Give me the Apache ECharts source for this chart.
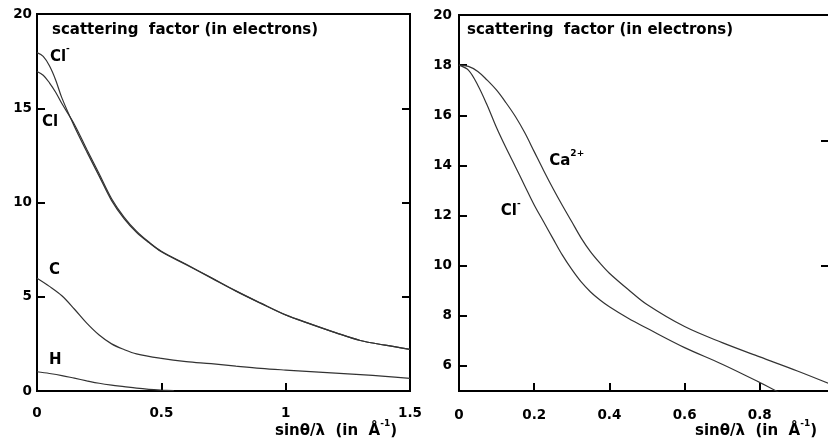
<!DOCTYPE html>
<html><head><meta charset="utf-8">
<script src="https://cdn.jsdelivr.net/npm/echarts@6/dist/echarts.min.js"></script>
<style>html,body{margin:0;padding:0;background:#fff}#c{width:828px;height:441px}</style>
</head><body><div id="c"></div>
<script>
// ---- data ----
const leftClMinus = [[0,17.95],[0.025,17.75],[0.05,17.25],[0.075,16.5],[0.1,15.55],[0.15,14.05],[0.2,12.7],[0.25,11.4],[0.3,10.1],[0.35,9.15],[0.4,8.42],[0.45,7.87],[0.5,7.39],[0.6,6.7],[0.7,6.0],[0.8,5.3],[0.9,4.65],[1.0,4.03],[1.1,3.55],[1.2,3.1],[1.3,2.68],[1.4,2.43],[1.5,2.21]];
const leftCl = [[0,16.95],[0.025,16.75],[0.05,16.35],[0.075,15.85],[0.1,15.25],[0.15,14.15],[0.2,12.82],[0.25,11.52],[0.3,10.2],[0.35,9.23],[0.4,8.48],[0.45,7.9],[0.5,7.41],[0.6,6.72],[0.7,6.02],[0.8,5.31],[0.9,4.66],[1.0,4.04],[1.1,3.56],[1.2,3.1],[1.3,2.68],[1.4,2.43],[1.5,2.21]];
const leftC = [[0,5.98],[0.05,5.55],[0.1,5.05],[0.15,4.35],[0.2,3.6],[0.25,2.97],[0.3,2.5],[0.35,2.2],[0.4,1.97],[0.5,1.73],[0.6,1.56],[0.7,1.45],[0.8,1.32],[0.9,1.2],[1.0,1.11],[1.1,1.03],[1.2,0.95],[1.3,0.87],[1.4,0.78],[1.5,0.67]];
const leftH = [[0,1.02],[0.05,0.93],[0.1,0.82],[0.15,0.68],[0.2,0.54],[0.25,0.41],[0.3,0.31],[0.35,0.23],[0.4,0.15],[0.45,0.09],[0.5,0.05],[0.55,0.02]];
const rightClMinus = [[0,18.0],[0.025,17.8],[0.05,17.2],[0.075,16.4],[0.1,15.5],[0.125,14.7],[0.15,13.95],[0.175,13.18],[0.2,12.42],[0.225,11.75],[0.25,11.08],[0.275,10.42],[0.3,9.85],[0.325,9.35],[0.35,8.95],[0.375,8.63],[0.4,8.36],[0.45,7.9],[0.5,7.5],[0.6,6.73],[0.7,6.07],[0.8,5.34],[0.85,4.95]];
const rightCa = [[0,18.0],[0.025,17.95],[0.05,17.75],[0.075,17.4],[0.1,17.0],[0.125,16.5],[0.15,15.95],[0.175,15.3],[0.2,14.55],[0.225,13.8],[0.25,13.08],[0.275,12.4],[0.3,11.75],[0.325,11.1],[0.35,10.55],[0.375,10.1],[0.4,9.7],[0.45,9.05],[0.5,8.45],[0.6,7.57],[0.7,6.93],[0.8,6.36],[0.9,5.8],[1.0,5.2]];
const rightYLabels = [6,8,10,12,14,16,18,20];
const rightYRightTicks = [10,15];
const rightXLabels = [0,0.2,0.4,0.6,0.8];
const titleText = 'scattering  factor (in electrons)';
const xNameText = '{a|sin\u03b8/\u03bb  (in  \u00c5}{s|-1}{a|)}';

// ---- styling ----
const FF = '"DejaVu Sans", sans-serif';
const lab = {fontFamily: FF, fontWeight: 'bold', fontSize: 13.5, color: '#000'};
const tickStyle = {inside: true, length: 8, lineStyle: {color: '#000', width: 2}};
const lineStyle = {color: '#333', width: 1.2};
const supStyle = {fontFamily: FF, fontWeight: 'bold', fontSize: 9, verticalAlign: 'top', color: '#000'};
const baseTok = {fontFamily: FF, fontWeight: 'bold', fontSize: 15, color: '#000', padding: [5, 0, 0, 0]};

function curveLabel(text, coord) {
  return {
    symbol: 'rect', symbolSize: 0, silent: true,
    label: {show: true, position: 'right', distance: 0, formatter: text,
            fontFamily: FF, fontWeight: 'bold', fontSize: 15, color: '#000',
            rich: {b: baseTok, s: supStyle}},
    data: [{coord: coord}]
  };
}
function line(data, xi, yi, mp) {
  return {type: 'line', data: data, xAxisIndex: xi, yAxisIndex: yi, showSymbol: false,
          smooth: 0.35, lineStyle: lineStyle, markPoint: mp, z: 3};
}
function textEl(x, y, text, align) {
  return {type: 'text', x: x, y: y, style: {text: text, fontFamily: FF, fontWeight: 'bold', fontSize: 15,
          fill: '#000', align: align, verticalAlign: 'middle',
          rich: {a: {fontFamily: FF, fontWeight: 'bold', fontSize: 15, fill: '#000', padding: [5, 0, 0, 0]},
                 s: {fontFamily: FF, fontWeight: 'bold', fontSize: 9, verticalAlign: 'top', fill: '#000'}}}};
}

const chart = echarts.init(document.getElementById('c'), null, {renderer: 'canvas'});
chart.setOption({
  animation: false,
  backgroundColor: '#fff',
  grid: [
    {left: 37, top: 14, width: 373, height: 377, show: true, borderColor: '#000', borderWidth: 2,
     backgroundColor: 'transparent', outerBoundsMode: 'none', containLabel: false},
    {left: 459, top: 15, width: 376, height: 376, show: true, borderColor: '#000', borderWidth: 2,
     backgroundColor: 'transparent', outerBoundsMode: 'none', containLabel: false}
  ],
  xAxis: [
    {gridIndex: 0, type: 'value', min: 0, max: 1.5, interval: 0.5, axisLine: {show: false},
     axisTick: tickStyle, splitLine: {show: false}, axisLabel: Object.assign({margin: 15}, lab)},
    {gridIndex: 1, type: 'value', min: 0, max: 1, interval: 0.2, axisLine: {show: false},
     axisTick: tickStyle, splitLine: {show: false},
     axisLabel: Object.assign({margin: 17, customValues: rightXLabels}, lab)}
  ],
  yAxis: [
    {gridIndex: 0, type: 'value', min: 0, max: 20, interval: 5, position: 'left', axisLine: {show: false},
     axisTick: tickStyle, splitLine: {show: false}, axisLabel: Object.assign({margin: 5, padding: [6, 0, 0, 0]}, lab)},
    {gridIndex: 0, type: 'value', min: 0, max: 20, interval: 5, position: 'right', axisLine: {show: false},
     axisTick: tickStyle, splitLine: {show: false}, axisLabel: {show: false}},
    {gridIndex: 1, type: 'value', min: 5, max: 20, position: 'left', axisLine: {show: false},
     axisTick: Object.assign({customValues: rightYLabels}, tickStyle), splitLine: {show: false},
     axisLabel: Object.assign({margin: 7, padding: [5, 0, 0, 0], customValues: rightYLabels}, lab)},
    {gridIndex: 1, type: 'value', min: 5, max: 20, position: 'right', axisLine: {show: false},
     axisTick: {customValues: rightYRightTicks, inside: true, length: 14, lineStyle: {color: '#000', width: 2}},
     splitLine: {show: false}, axisLabel: {show: false}}
  ],
  series: [
    line(leftClMinus, 0, 0, curveLabel('{b|Cl}{s|-}', [0.052, 17.85])),
    line(leftCl, 0, 0, curveLabel('Cl', [0.02, 14.27])),
    line(leftC, 0, 0, curveLabel('C', [0.048, 6.42])),
    line(leftH, 0, 0, curveLabel('H', [0.048, 1.64])),
    line(rightClMinus, 1, 2, curveLabel('{b|Cl}{s|-}', [0.111, 12.26])),
    line(rightCa, 1, 2, curveLabel('{b|Ca}{s|2+}', [0.24, 14.26]))
  ],
  graphic: [
    textEl(52, 30, titleText, 'left'),
    textEl(467, 30, titleText, 'left'),
    textEl(397, 429, xNameText, 'right'),
    textEl(817, 429, xNameText, 'right')
  ]
});
</script>
</body></html>
